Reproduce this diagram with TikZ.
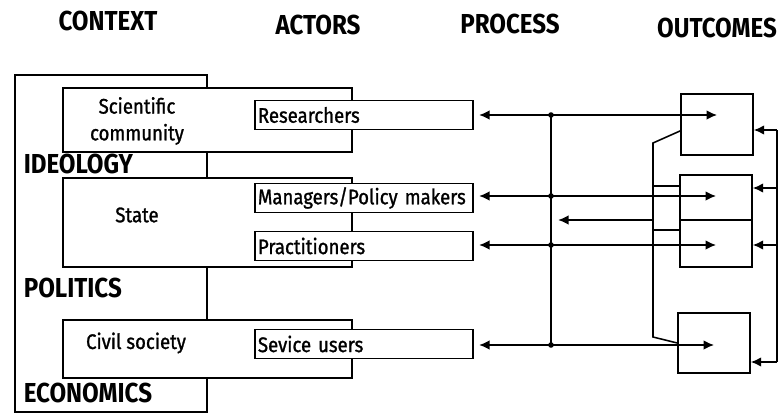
\documentclass[tikz,border=0pt]{standalone}
\usepackage{fontspec}
\setmainfont{Fira Sans}[FakeStretch=0.88]
\newfontfamily\medfont{Fira Sans}[FakeStretch=0.88, FakeBold=1.2]
\usetikzlibrary{arrows.meta,positioning}

\begin{document}
\begin{tikzpicture}[x=0.025cm, y=-0.025cm, line width=1.1pt,
		sector/.style={draw, fill=white, minimum width=7.225cm},
		actor/.style={draw, fill=white, text width=5.3cm, inner xsep=0.8mm, inner ysep=0pt, minimum height=0.73cm, align=left, font=\medfont\fontsize{15}{16}\selectfont},
		outcome/.style={draw, fill=white, minimum width=1.8cm},
		head/.style={font=\bfseries\fontsize{19.5}{21}\selectfont},
		ctxword/.style={anchor=west, inner sep=0pt, font=\bfseries\fontsize{19.5}{21}\selectfont},
		sectxt/.style={align=center, font=\medfont\fontsize{15}{19}\selectfont},
		arr/.style={-{Latex[length=2.6mm,width=2.4mm]}},
		jdot/.style={circle, fill, inner sep=0pt, minimum size=1.4mm}]
		%%%%% START %%%%%
		
		\useasboundingbox (0,0) rectangle (784,414);
		
		\node[head] (hctx) at (108,21) {CONTEXT};
		\node[head] (hact) at (318,25) {ACTORS};
		\node[head] (hproc) at (510,24) {PROCESS};
		\node[head] (hout) at (717,28) {OUTCOMES};
		
		\node[draw, inner sep=0pt, minimum width=4.8cm, minimum height=8.425cm] (ctx) at (111,243.5) {};
		
		\node[sector, minimum height=1.6cm] (sci) at (207.5,120) {};
		\node[sector, minimum height=2.225cm] (state) at (207.5,222.5) {};
		\node[sector, minimum height=1.45cm] (civil) at (207.5,349) {};
		
		\node[sectxt] (scit) at (137,121) {Scientific\\community};
		\node[sectxt] (statet) at (137,215) {State};
		\node[sectxt] (civilt) at (136,343) {Civil society};
		
		\node[ctxword] (ideo) at (23,164) {IDEOLOGY};
		\node[ctxword] (poli) at (23,288) {POLITICS};
		\node[ctxword] (econ) at (23,393) {ECONOMICS};
		
		\node[actor] (res) at (364,115) {Researchers};
		\node[actor] (man) at (364,198) {Managers/Policy makers};
		\node[actor] (prac) at (364,246) {Practitioners};
		\node[actor] (serv) at (364,344) {Sevice users};
		
		\node[outcome, minimum height=1.525cm] (o1) at (717,124.5) {};
		\node[outcome, minimum height=1.125cm] (o2) at (716,197.5) {};
		\node[outcome, minimum height=1.175cm] (o3) at (716,243.5) {};
		\node[outcome, minimum height=1.5cm] (o4) at (714,343) {};
		
		% process line
		\coordinate (p1) at (551,115);
		\coordinate (p2) at (551,196);
		\coordinate (p3) at (551,245);
		\coordinate (p4) at (551,345);
		\draw (p1) -- (p4);
		\draw[arr, shorten >=1.3mm] (p1) -- (p1 -| res.east);
		\draw[arr, shorten >=1.3mm] (p2) -- (p2 -| man.east);
		\draw[arr, shorten >=1.3mm] (p3) -- (p3 -| prac.east);
		\draw[arr, shorten >=1.3mm] (p4) -- (p4 -| serv.east);
		\draw[arr] (p1) -- (p1 -| o1);
		\draw[arr] (p2) -- (p2 -| o2);
		\draw[arr] (p3) -- (p3 -| o3);
		\draw[arr] (p4) -- (p4 -| o4);
		\foreach \i in {1,...,4}
			\node[jdot] (d\i) at (p\i) {};
		
		% feedback
		\coordinate (f1) at (777,130);
		\coordinate (f2) at (777,188);
		\coordinate (f3) at (777,245);
		\coordinate (f4) at (777,362);
		\draw (f1) -- (f4);
		\foreach \i in {1,...,4}
			\draw[arr] (f\i) -- (f\i -| o\i.east);
		
		% bracket
		\coordinate (b1) at (653,143);
		\coordinate (b4) at (653,337);
		\draw ([yshift=-0.16cm]o1.west) -- (b1) -- (b4) -- (o4.west);
		\coordinate (t2) at (653,186);
		\coordinate (t3) at (653,230);
		\draw (t2) -- (t2 -| o2.west);
		\draw (t3) -- (t3 -| o3.west);
		\coordinate (bk) at (653,220);
		\draw[arr, shorten >=1.8mm] (bk) -- (bk -| p1);
		
		%%%%% END %%%%%
	\end{tikzpicture}
\end{document}
